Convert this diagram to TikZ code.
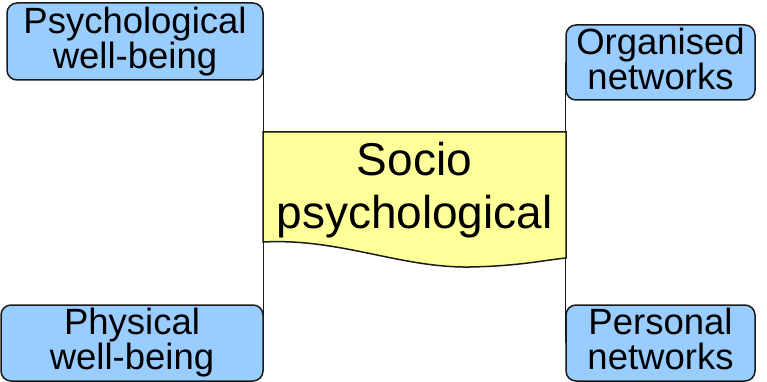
\documentclass[tikz,border=0pt]{standalone}
\usepackage{fontspec}
\setmainfont{Liberation Sans}
\usetikzlibrary{backgrounds}
\definecolor{boxblue}{HTML}{99CCFF}
\definecolor{noteyellow}{HTML}{FFFF99}
\definecolor{edgecol}{HTML}{1A1A1A}
\begin{document}
\begin{tikzpicture}[x=1pt,y=-1pt,
  bluebox/.style={draw=edgecol, line width=1.5pt, fill=boxblue, rounded corners=10pt,
    inner sep=0pt, align=center, font=\fontsize{36.5}{35}\selectfont},
  conn/.style={draw=edgecol, line width=1.3pt}]
\useasboundingbox (0,0) rectangle (767,382);
% yellow document shape
\draw[draw=edgecol, line width=1.5pt, fill=noteyellow]
  (263,132) -- (566,132) -- (566,258)
  .. controls (545,260) and (520,266) .. (470,267)
  .. controls (400,268) and (340,238) .. (263,242) -- cycle;
\node[inner sep=0pt, align=center, font=\fontsize{46}{53}\selectfont] (sp) at (414.5,190) {Socio\\psychological};
% boxes
\node[bluebox, minimum width=256pt, minimum height=77pt] (tl) at (135,41.5) {Psychological\\well-being};
\node[bluebox, minimum width=262pt, minimum height=76pt] (bl) at (132,343) {Physical\\well-being};
\node[bluebox, minimum width=189pt, minimum height=75pt, text depth=7.6pt] (tr) at (660.5,62.5) {Organised\\networks};
\node[bluebox, minimum width=189pt, minimum height=76pt, text depth=7.6pt] (br) at (660.5,343) {Personal\\networks};
% connectors
\begin{scope}[on background layer]
\draw[conn] (tl.east) -- (bl.east);
\draw[conn] (tr.west) -- (br.west);
\end{scope}
\end{tikzpicture}
\end{document}
